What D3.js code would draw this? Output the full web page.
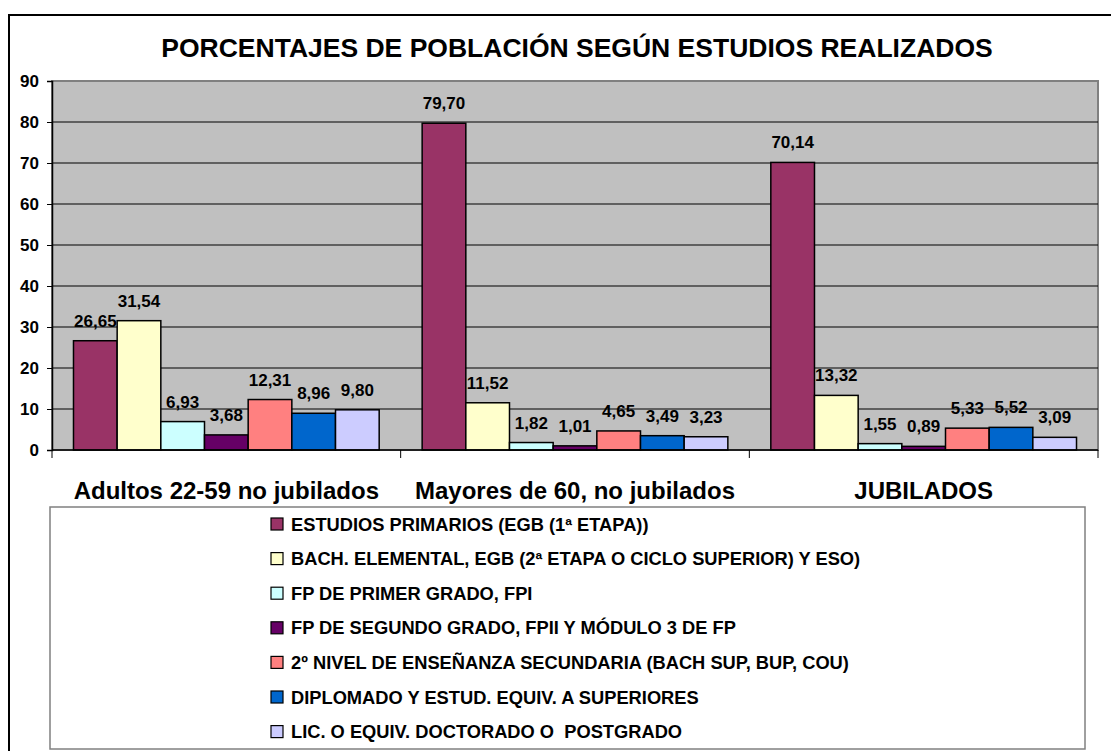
<!DOCTYPE html>
<html>
<head>
<meta charset="utf-8">
<script src="https://cdn.jsdelivr.net/npm/d3@7"></script>
<style>
  body { margin: 0; background: #fff; }
  svg { font-family: "Liberation Sans", Arial, sans-serif; font-weight: bold; }
  svg text { white-space: pre; }
</style>
</head>
<body>
<div id="chart"></div>
<script>
// data
var categories = ["Adultos 22-59 no jubilados", "Mayores de 60, no jubilados", "JUBILADOS"]
var seriesNames = [
  "ESTUDIOS PRIMARIOS (EGB (1ª ETAPA))",
  "BACH. ELEMENTAL, EGB (2ª ETAPA O CICLO SUPERIOR) Y ESO)",
  "FP DE PRIMER GRADO, FPI",
  "FP DE SEGUNDO GRADO, FPII Y MÓDULO 3 DE FP",
  "2º NIVEL DE ENSEÑANZA SECUNDARIA (BACH SUP, BUP, COU)",
  "DIPLOMADO Y ESTUD. EQUIV. A SUPERIORES",
  "LIC. O EQUIV. DOCTORADO O  POSTGRADO"
]
var adultos = [26.65, 31.54, 6.93, 3.68, 12.31, 8.96, 9.80]
var mayores = [79.70, 11.52, 1.82, 1.01, 4.65, 3.49, 3.23]
var jubilados = [70.14, 13.32, 1.55, 0.89, 5.33, 5.52, 3.09]
var yTicks = [0, 10, 20, 30, 40, 50, 60, 70, 80, 90]

var colors = ["#993366", "#FFFFCC", "#CCFFFF", "#660066", "#FF8080", "#0066CC", "#CCCCFF"]
var values = [adultos, mayores, jubilados]

var width = 1111, height = 751
var plot = { left: 52, top: 81, right: 1098, bottom: 450 }

var svg = d3.select("#chart")
  .append("svg")
  .attr("width", width)
  .attr("height", height)

// outer chart border
svg.append("rect")
  .attr("x", 9).attr("y", 15)
  .attr("width", width).attr("height", height)
  .style("fill", "none")
  .style("stroke", "#000")
  .style("stroke-width", 2)

// title
svg.append("text")
  .attr("x", 577).attr("y", 57)
  .style("text-anchor", "middle")
  .style("font-size", "26.5px")
  .text("PORCENTAJES DE POBLACIÓN SEGÚN ESTUDIOS REALIZADOS")

// scales
var yScale = d3.scaleLinear()
  .domain([0, 90])
  .range([plot.bottom, plot.top])

var xScale = d3.scaleBand()
  .domain(categories)
  .range([plot.left, plot.right])

var xInner = d3.scaleBand()
  .domain(d3.range(seriesNames.length))
  .range([0, xScale.bandwidth()])
  .paddingOuter(0.5 * 43 / 43.7)

// plot background
svg.append("rect")
  .attr("x", plot.left).attr("y", plot.top)
  .attr("width", plot.right - plot.left)
  .attr("height", plot.bottom - plot.top)
  .style("fill", "#C0C0C0")
  .style("stroke", "#808080")
  .style("stroke-width", 2)

// grid
svg.append("g")
  .selectAll("line")
  .data(yTicks.filter(d => d > 0 && d < 90))
  .enter()
  .append("line")
  .attr("x1", plot.left).attr("x2", plot.right)
  .attr("y1", d => yScale(d)).attr("y2", d => yScale(d))
  .style("stroke", "#000")
  .style("stroke-width", 1)

// y axis
var yAxis = d3.axisLeft(yScale)
  .tickValues(yTicks)
  .tickSize(5)
  .tickPadding(8)
  .tickFormat(d => d)

svg.append("g")
  .attr("transform", `translate(${plot.left},0)`)
  .call(yAxis)
  .call(g => g.select(".domain").attr("stroke", "#000").attr("stroke-width", 1.5))
  .selectAll("text")
  .style("font-size", "17px")
  .style("font-family", "Liberation Sans, Arial, sans-serif")
  .style("font-weight", "bold")
  .style("fill", "#000")

// bars
var groups = svg.append("g")
  .selectAll("g")
  .data(categories)
  .enter()
  .append("g")
  .attr("transform", d => `translate(${xScale(d)},0)`)

groups.selectAll("rect")
  .data((d, i) => values[i])
  .enter()
  .append("rect")
  .attr("x", (d, j) => xInner(j))
  .attr("y", d => yScale(d))
  .attr("width", xInner.bandwidth())
  .attr("height", d => yScale(0) - yScale(d))
  .style("fill", (d, j) => colors[j])
  .style("stroke", "#000")
  .style("stroke-width", 1.5)

groups.selectAll("text")
  .data((d, i) => values[i])
  .enter()
  .append("text")
  .attr("x", (d, j) => xInner(j) + xInner.bandwidth() / 2)
  .attr("y", d => yScale(d) - 14)
  .style("text-anchor", "middle")
  .style("font-size", "17px")
  .text(d => d3.format(".2f")(d).replace(".", ","))

// x axis
var xAxisTicks = [plot.left].concat(categories.map(c => xScale(c) + xScale.bandwidth()))
svg.append("line")
  .attr("x1", plot.left).attr("x2", plot.right)
  .attr("y1", plot.bottom).attr("y2", plot.bottom)
  .style("stroke", "#000")
  .style("stroke-width", 1.5)

svg.append("g")
  .selectAll("line")
  .data(xAxisTicks)
  .enter()
  .append("line")
  .attr("x1", d => d).attr("x2", d => d)
  .attr("y1", plot.bottom).attr("y2", plot.bottom + 8)
  .style("stroke", "#000")
  .style("stroke-width", 1)

svg.append("g")
  .selectAll("text")
  .data(categories)
  .enter()
  .append("text")
  .attr("x", d => xScale(d) + xScale.bandwidth() / 2)
  .attr("y", 499)
  .style("text-anchor", "middle")
  .style("font-size", "24px")
  .text(d => d)

// legend
svg.append("rect")
  .attr("x", 50).attr("y", 507)
  .attr("width", 1035).attr("height", 242)
  .style("fill", "#fff")
  .style("stroke", "#808080")
  .style("stroke-width", 1.5)

var legend = svg.append("g")
  .selectAll("g")
  .data(seriesNames)
  .enter()
  .append("g")
  .attr("transform", (d, i) => `translate(271,${524 + i * 34.6})`)

legend.append("rect")
  .attr("x", 0).attr("y", -6)
  .attr("width", 12).attr("height", 12)
  .style("fill", (d, i) => colors[i])
  .style("stroke", "#000")
  .style("stroke-width", 1.2)

legend.append("text")
  .attr("x", 20).attr("y", 6.5)
  .style("font-size", "18.3px")
  .text(d => d)
</script>
</body>
</html>
